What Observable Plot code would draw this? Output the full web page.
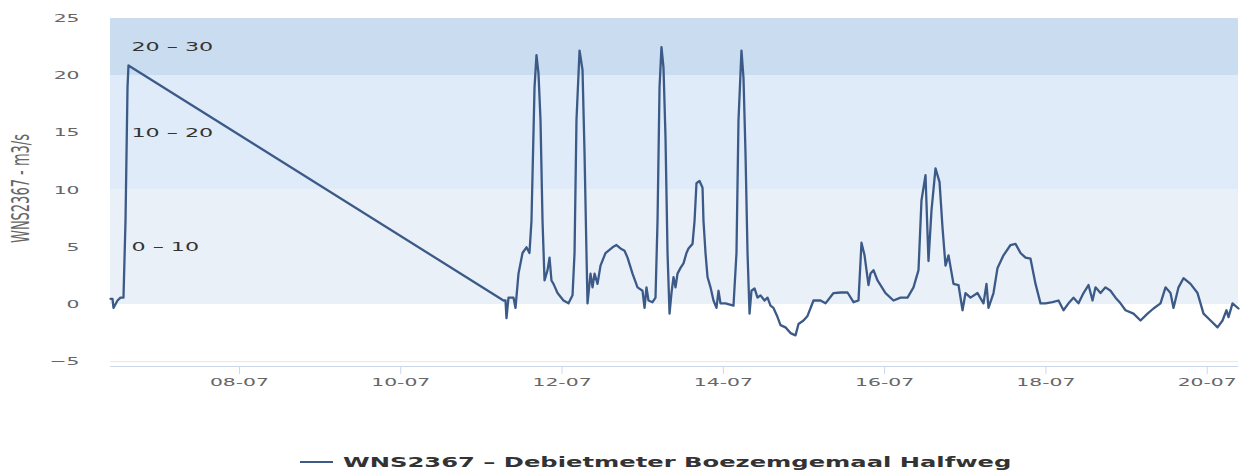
<!DOCTYPE html>
<html>
<head>
<meta charset="utf-8">
<script src="https://cdn.jsdelivr.net/npm/d3@7"></script>
<script src="https://cdn.jsdelivr.net/npm/@observablehq/plot@0.6"></script>
<style>
html, body { margin: 0; padding: 0; background: #fff; overflow: hidden; }
#chart { position: relative; width: 1240px; height: 471px; overflow: hidden; font-family: "DejaVu Sans", sans-serif; }
#legend { position: absolute; left: 300px; top: 454px; display: flex; align-items: center; white-space: nowrap; }
#legend span { display: inline-block; margin-left: 10px; font-weight: bold; font-size: 14px; line-height: 16px; color: #333; transform: scaleX(1.73); transform-origin: left center; }
</style>
</head>
<body>
<div id="chart"></div>
<script>
// Time of each reading, as day of July (with fraction of the day)
const days = [
  6.401, 6.426, 6.438, 6.488, 6.525, 6.562, 6.587, 6.612, 6.624,
  11.274, 11.299, 11.311, 11.336, 11.398, 11.423, 11.460, 11.510, 11.559, 11.596,
  11.621, 11.659, 11.683, 11.708, 11.733, 11.758, 11.783, 11.820, 11.845, 11.869,
  11.894, 11.944, 12.018, 12.080, 12.130, 12.155, 12.179, 12.217, 12.254, 12.279,
  12.303, 12.316, 12.353, 12.378, 12.403, 12.440, 12.477, 12.539, 12.626, 12.675,
  12.725, 12.775, 12.812, 12.874, 12.936, 12.998, 13.023, 13.047, 13.072, 13.122,
  13.159, 13.184, 13.209, 13.233, 13.258, 13.283, 13.308, 13.333, 13.357, 13.382,
  13.407, 13.432, 13.469, 13.506, 13.543, 13.568, 13.618, 13.643, 13.667, 13.705,
  13.742, 13.754, 13.779, 13.804, 13.841, 13.878, 13.915, 13.940, 13.965, 14.027,
  14.126, 14.163, 14.188, 14.225, 14.250, 14.275, 14.300, 14.325, 14.349, 14.387,
  14.424, 14.461, 14.511, 14.548, 14.585, 14.622, 14.672, 14.709, 14.771, 14.833,
  14.895, 14.932, 14.994, 15.044, 15.118, 15.205, 15.267, 15.366, 15.453, 15.540,
  15.614, 15.676, 15.713, 15.751, 15.800, 15.825, 15.862, 15.912, 16.011, 16.110,
  16.197, 16.284, 16.358, 16.420, 16.457, 16.507, 16.544, 16.581, 16.631, 16.681,
  16.718, 16.755, 16.792, 16.854, 16.916, 16.966, 17.003, 17.065, 17.152, 17.226,
  17.263, 17.288, 17.350, 17.400, 17.474, 17.561, 17.623, 17.685, 17.747, 17.809,
  17.871, 17.933, 17.995, 18.082, 18.156, 18.218, 18.280, 18.342, 18.404, 18.466,
  18.528, 18.578, 18.615, 18.677, 18.739, 18.801, 18.863, 18.925, 18.987, 19.086,
  19.173, 19.260, 19.334, 19.421, 19.483, 19.545, 19.582, 19.644, 19.706, 19.793,
  19.880, 19.954, 20.041, 20.128, 20.190, 20.239, 20.264, 20.314, 20.388
];
// Flow (m3/s) at each reading
const flow = [
  0.5, 0.5, -0.3, 0.35, 0.6, 0.6, 7.3, 19.0, 20.9,
  0.35, 0.35, -1.2, 0.6, 0.6, -0.3, 2.7, 4.5, 5.0, 4.5,
  7.3, 19.0, 21.8, 20.2, 16.1, 7.3, 2.1, 3.0, 4.1, 2.1,
  1.8, 1.0, 0.35, 0.1, 0.8, 4.5, 16.1, 22.2, 20.5, 13.2,
  4.5, 0.1, 2.7, 1.5, 2.7, 1.8, 3.4, 4.5, 5.0, 5.2,
  4.9, 4.7, 4.1, 2.7, 1.5, 1.2, -0.3, 1.5, 0.35, 0.2,
  0.6, 7.3, 19.0, 22.5, 20.7, 14.6, 4.5, -0.8, 1.0, 2.4,
  1.5, 2.7, 3.2, 3.6, 4.5, 4.9, 5.3, 7.3, 10.6, 10.8,
  10.2, 7.3, 4.5, 2.4, 1.5, 0.35, -0.3, 1.2, 0.1, 0.1,
  -0.1, 4.5, 16.1, 22.2, 19.8, 13.2, 4.5, -0.8, 1.2, 1.4,
  0.6, 0.8, 0.35, 0.6, -0.1, -0.3, -1.1, -1.8, -2.0, -2.5,
  -2.7, -1.7, -1.4, -1.0, 0.35, 0.35, 0.1, 1.0, 1.05, 1.05,
  0.2, 0.35, 5.4, 4.3, 1.7, 2.7, 3.0, 2.1, 1.0, 0.35,
  0.6, 0.6, 1.5, 3.0, 9.1, 11.3, 3.8, 8.2, 11.9, 10.7,
  6.7, 3.4, 4.3, 1.8, 1.7, -0.5, 1.0, 0.6, 1.0, 0.1,
  1.8, -0.3, 1.0, 3.2, 4.3, 5.2, 5.3, 4.5, 4.1, 4.0,
  1.8, 0.1, 0.1, 0.2, 0.35, -0.5, 0.1, 0.6, 0.1, 1.0,
  1.7, 0.35, 1.5, 1.0, 1.5, 1.2, 0.6, 0.1, -0.5, -0.8,
  -1.4, -0.8, -0.35, 0.1, 1.5, 1.0, -0.3, 1.5, 2.3, 1.8,
  1.0, -0.8, -1.4, -2.0, -1.4, -0.5, -1.1, 0.1, -0.35
];
const bandFrom = [0, 10, 20];
const bandTo = [10, 20, 30];
const bandLabels = ["0 – 10", "10 – 20", "20 – 30"];
const bandColors = ["#e9f0f8", "#dfebf8", "#cadcef"];
const yTicks = [-5, 0, 5, 10, 15, 20, 25];
const xTickDays = [8, 10, 12, 14, 16, 18, 20];
const yDomain = [-5.42, 25];
const seriesName = "WNS2367 – Debietmeter Boezemgemaal Halfweg";
const yTitle = "WNS2367 - m3/s";
const lineColor = "#3c5a88";

const toDate = d => new Date(Date.UTC(2023, 6, 1) + (d - 1) * 864e5);
const data = days.map((d, i) => ({t: toDate(d), v: flow[i]}));
const bands = bandFrom.map((f, i) => ({
  from: f,
  top: Math.min(bandTo[i], yDomain[1]),
  mid: (f + Math.min(bandTo[i], yDomain[1])) / 2,
  label: bandLabels[i],
  color: bandColors[i]
}));

const plot = Plot.plot({
  width: 1240,
  height: 400,
  marginTop: 18,
  marginBottom: 34,
  marginLeft: 110,
  marginRight: 2,
  style: {fontFamily: "DejaVu Sans, sans-serif", background: "#fff", overflow: "visible"},
  x: {type: "utc", domain: d3.extent(data, d => d.t)},
  y: {domain: yDomain},
  marks: [
    ...bands.map(b => Plot.rect([b], {y1: "from", y2: "top", fill: b.color})),
    Plot.ruleY([-5], {stroke: "#e6e6e6"}),
    Plot.ruleY([yDomain[0]], {stroke: "#ccd6eb"}),
    Plot.text(bands, {y: "mid", text: "label", frameAnchor: "left", dx: 21, textAnchor: "start", fill: "#333", fontSize: 12}),
    Plot.axisY({ticks: yTicks, tickSize: 0, tickPadding: 31, fontSize: 11, color: "#666", label: null}),
    Plot.axisX({ticks: xTickDays.map(toDate), tickSize: 8, tickPadding: 4, stroke: "#ccd6eb", color: "#666", fontSize: 11, tickFormat: d3.utcFormat("%d-%m"), label: null}),
    Plot.text([yTitle], {text: d => d, frameAnchor: "left", rotate: -90, dx: -89, dy: -4, textAnchor: "middle", lineAnchor: "middle", fill: "#666", fontSize: 13}),
    Plot.line(data, {x: "t", y: "v", stroke: lineColor, strokeWidth: 2.3, strokeLinejoin: "round"})
  ]
});

// the reference renders its text horizontally widened
const sx = 1.85;
d3.select(plot).selectAll("text").each(function () {
  const tr = this.getAttribute("transform") || "";
  const isTitle = this.textContent === yTitle;
  this.setAttribute("transform", tr + (isTitle ? ` scale(1,${sx})` : ` scale(${sx},1)`));
});

const chart = document.getElementById("chart");
chart.appendChild(plot);

const legend = document.createElement("div");
legend.id = "legend";
legend.innerHTML = `<svg width="33" height="4"><line x1="0" x2="33" y1="2" y2="2" stroke="${lineColor}" stroke-width="2"/></svg><span></span>`;
legend.querySelector("span").textContent = seriesName;
chart.appendChild(legend);
</script>
</body>
</html>
